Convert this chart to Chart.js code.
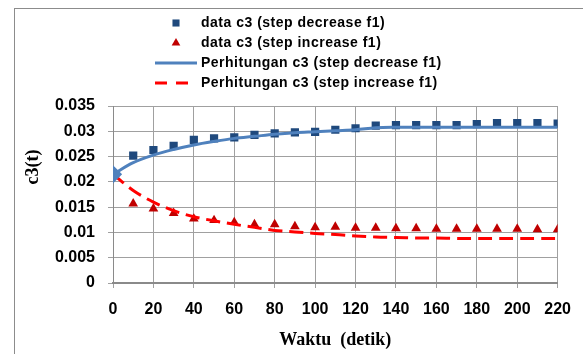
<!DOCTYPE html>
<html lang="en">
<head>
  <meta charset="UTF-8">
  <title>c3(t) vs Waktu</title>
  <script src="https://cdn.jsdelivr.net/npm/chart.js"></script>
  <style>
    html, body { margin: 0; padding: 0; background: #fff; }
    #wrap { width: 583px; height: 354px; }
  </style>
</head>
<body>
  <div id="wrap"><canvas id="c3Chart"></canvas></div>
  <script>
    // time in seconds
    const waktu = [0, 10, 20, 30, 40, 50, 60, 70, 80, 90, 100, 110, 120, 130, 140, 150, 160, 170, 180, 190, 200, 210, 220];

    // measured c3
    const dataDecrease = [0.0215, 0.0252, 0.0263, 0.0271, 0.0283, 0.0286, 0.0288, 0.0293, 0.0296, 0.0298, 0.0299, 0.0303,
      0.0306, 0.0311, 0.0312, 0.0312, 0.0312, 0.0312, 0.0314, 0.0316, 0.0316, 0.0316, 0.0315];
    const dataIncrease = [0.0215, 0.0157, 0.0147, 0.0138, 0.0127, 0.0124, 0.0120, 0.0116, 0.0116, 0.0112, 0.0110, 0.0111,
      0.0109, 0.0109, 0.0108, 0.0108, 0.0107, 0.0107, 0.0107, 0.0107, 0.0107, 0.0106, 0.0106];

    // calculated c3
    const hitungDecrease = [0.0215, 0.0238, 0.0253, 0.0264, 0.0273, 0.0280, 0.0286, 0.0290, 0.0294, 0.0297, 0.0299, 0.0301,
      0.0303, 0.0307, 0.0308, 0.0308, 0.0308, 0.0308, 0.0308, 0.0308, 0.0308, 0.0308, 0.0308];
    const hitungIncrease = [0.0215, 0.0183, 0.0160, 0.0143, 0.0131, 0.0123, 0.0116, 0.0110, 0.0104, 0.0101, 0.0098, 0.0096,
      0.0093, 0.0091, 0.0090, 0.0089, 0.0089, 0.0088, 0.0088, 0.0088, 0.0088, 0.0088, 0.0088];

    const seriesLabels = [
      'data c3 (step decrease f1)',
      'data c3 (step increase f1)',
      'Perhitungan c3 (step decrease f1)',
      'Perhitungan c3 (step increase f1)'
    ];

    const xTicks = { min: 0, max: 220, step: 20 };
    const yTicks = { min: 0, max: 0.035, step: 0.005 };
    const xTitle = 'Waktu  (detik)';
    const yTitle = 'c3(t)';

    const pts = arr => waktu.map((t, i) => ({ x: t, y: arr[i] }));

    const tickFont = { family: "'Liberation Sans', Arial, sans-serif", size: 16, weight: 'bold' };
    const gridColor = '#a0a0a0';

    // frame, vertical legend and y title placed like the Excel original
    const excelLook = {
      id: 'excelLook',
      beforeDraw(chart) {
        const ctx = chart.ctx;
        ctx.save();
        ctx.fillStyle = '#fff';
        ctx.fillRect(0, 0, chart.width, chart.height);
        ctx.strokeStyle = '#8c8c8c';
        ctx.lineWidth = 1;
        ctx.strokeRect(14.5, 8.5, chart.width, chart.height);
        ctx.restore();
      },
      afterDraw(chart) {
        const ctx = chart.ctx;
        ctx.save();
        ctx.textBaseline = 'middle';
        chart.data.datasets.forEach((ds, i) => {
          const y = 23 + i * 20;
          if (ds.showLine) {
            ctx.strokeStyle = ds.borderColor;
            ctx.lineWidth = 3;
            ctx.setLineDash(ds.borderDash ? [12, 9] : []);
            ctx.beginPath();
            ctx.moveTo(155, y);
            ctx.lineTo(197, y);
            ctx.stroke();
            ctx.setLineDash([]);
          } else {
            ctx.fillStyle = ds.backgroundColor;
            ctx.strokeStyle = ds.backgroundColor;
            ctx.beginPath();
            Chart.helpers.drawPoint(ctx, { pointStyle: ds.pointStyle, radius: 5, borderWidth: 0 }, 176, y);
          }
          ctx.fillStyle = '#000';
          ctx.font = "bold 14px 'Liberation Sans', Arial, sans-serif";
          ctx.letterSpacing = '0.5px';
          ctx.fillText(ds.label, 201, y);
          ctx.letterSpacing = '0px';
        });
        ctx.translate(33, 167);
        ctx.rotate(-Math.PI / 2);
        ctx.textAlign = 'center';
        ctx.fillStyle = '#000';
        ctx.font = "bold 18px 'Liberation Serif', 'Times New Roman', serif";
        ctx.fillText(yTitle, 0, 0);
        ctx.restore();
      }
    };

    new Chart(document.getElementById('c3Chart'), {
      type: 'scatter',
      data: {
        datasets: [
          {
            label: seriesLabels[0], data: pts(dataDecrease),
            pointStyle: 'rect', pointRadius: 5.8, backgroundColor: '#1f497d', borderColor: '#1f497d',
            borderWidth: 0, order: 2
          },
          {
            label: seriesLabels[1], data: pts(dataIncrease),
            pointStyle: 'triangle', pointRadius: 5.6, backgroundColor: '#c00000', borderColor: '#c00000',
            borderWidth: 0, order: 2
          },
          {
            label: seriesLabels[2], data: pts(hitungDecrease), showLine: true,
            borderColor: '#4f81bd', backgroundColor: '#4f81bd', borderWidth: 3, tension: 0.35,
            pointStyle: 'rectRot', pointRadius: c => c.dataIndex === 0 ? 7 : 0, order: 0
          },
          {
            label: seriesLabels[3], data: pts(hitungIncrease), showLine: true,
            borderColor: '#ff0000', backgroundColor: '#ff0000', borderWidth: 3, borderDash: [14, 7],
            tension: 0.35, pointRadius: 0, order: 1
          }
        ]
      },
      options: {
        responsive: true,
        maintainAspectRatio: false,
        animation: false,
        layout: { padding: { top: 106, right: 22, left: 20, bottom: 0 } },
        plugins: { legend: { display: false }, tooltip: { enabled: false } },
        scales: {
          x: {
            type: 'linear', min: xTicks.min, max: xTicks.max,
            afterFit: s => { s.height = 71; },
            ticks: { stepSize: xTicks.step, color: '#000', font: tickFont, padding: 12, maxRotation: 0 },
            grid: { color: gridColor, tickLength: 5 },
            border: { color: '#8a8a8a', width: 2 },
            title: {
              display: true, text: xTitle, color: '#000',
              font: { family: "'Liberation Serif', 'Times New Roman', serif", size: 18, weight: 'bold' },
              padding: { top: 0, bottom: 3 }
            }
          },
          y: {
            min: yTicks.min, max: yTicks.max,
            afterFit: s => { s.width = 93; },
            ticks: {
              stepSize: yTicks.step, color: '#000', font: tickFont, padding: 13,
              callback: v => parseFloat(v.toFixed(4)).toString()
            },
            grid: { color: gridColor, tickLength: 5 },
            border: { color: '#8a8a8a', width: 1 }
          }
        }
      },
      plugins: [excelLook]
    });
  </script>
</body>
</html>
